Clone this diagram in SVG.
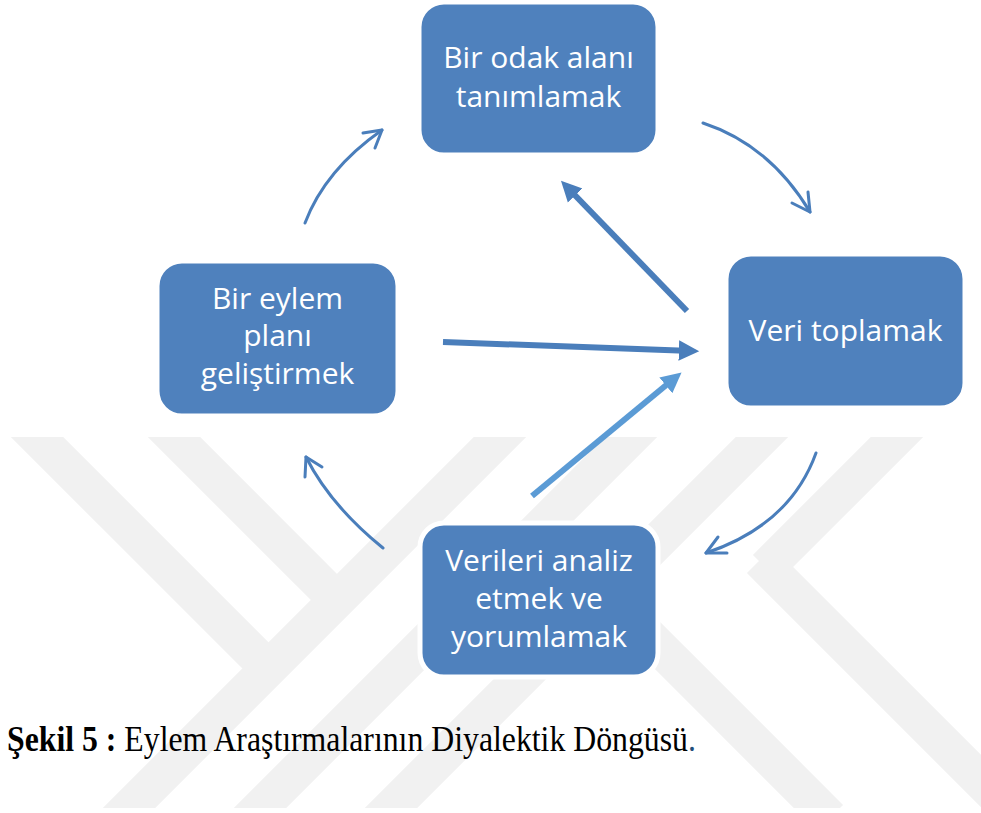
<svg xmlns="http://www.w3.org/2000/svg" width="981" height="813" viewBox="0 0 981 813">
<style>
.node rect{fill:#4F81BD;stroke:#ffffff;stroke-width:3}
.node text{fill:#ffffff;font-family:"Open Sans","Noto Sans",sans-serif;font-size:30px;text-anchor:middle}
.arc{fill:none;stroke:#4A7EBB;stroke-width:3;stroke-linecap:round;stroke-linejoin:round}
.bar{fill:none;stroke-width:6}
.wm{fill:none;stroke:#f1f1f1;stroke-width:37}
.cap{font-family:"Liberation Serif","Times New Roman",serif;font-size:36px;fill:#000}
</style>
<defs>
<clipPath id="wmclip"><rect x="0" y="437" width="981" height="371"/></clipPath>
<marker id="hd" markerWidth="4" markerHeight="4" refX="2.2" refY="2" orient="auto" markerUnits="strokeWidth"><path d="M0,0.3 L3.4,2 L0,3.7 Z" fill="#4A7EBB"/></marker>
<marker id="hl" markerWidth="4" markerHeight="4" refX="2.2" refY="2" orient="auto" markerUnits="strokeWidth"><path d="M0,0.3 L3.4,2 L0,3.7 Z" fill="#5B9BD5"/></marker>
</defs>
<rect width="981" height="813" fill="#ffffff"/>
<g id="watermark" clip-path="url(#wmclip)">
<path class="wm" d="M17,417 L269,669"/>
<path class="wm" d="M154,417 L337,600"/>
<path class="wm" d="M520,417 L100,837"/>
<path class="wm" d="M651,417 L241,827"/>
<path class="wm" d="M781,418 L371,828"/>
<path class="wm" d="M916,418 L766,568"/>
<path class="wm" d="M760,560 L1010,810"/>
<path class="wm" d="M605,593 L830,818"/>
</g>
<g id="connectors">
<path class="arc" d="M305,223 Q325,170 382,130"/>
<path class="arc" d="M363,133 L382,130 L375,148"/>
<path class="arc" d="M703,123 Q770,145 810,212"/>
<path class="arc" d="M792,203 L810,212 L808,192"/>
<path class="arc" d="M816,453 Q790,525 706,553"/>
<path class="arc" d="M718,537 L706,553 L727,553"/>
<path class="arc" d="M383,548 Q330,505 306,457"/>
<path class="arc" d="M305,477 L306,457 L322,467"/>
<path class="bar" stroke="#4A7EBB" d="M687,311 L566,186" marker-end="url(#hd)"/>
<path class="bar" stroke="#4A7EBB" d="M443,342 L692,351" marker-end="url(#hd)"/>
<path class="bar" stroke="#5B9BD5" d="M532,496 L676,377" marker-end="url(#hl)"/>
</g>
<g id="n1" class="node">
<rect x="420" y="3" width="237" height="151" rx="24"/>
<text x="538.5" y="68">Bir odak alanı</text>
<text x="538.5" y="107">tanımlamak</text>
</g>
<g id="n2" class="node">
<rect x="727" y="255" width="237" height="152" rx="24"/>
<text x="845.5" y="341">Veri toplamak</text>
</g>
<g id="n3" class="node">
<rect x="420" y="523" width="238" height="154" rx="24" style="stroke-width:5"/>
<text x="539" y="571">Verileri analiz</text>
<text x="539" y="609">etmek ve</text>
<text x="539" y="647">yorumlamak</text>
</g>
<g id="n4" class="node">
<rect x="158" y="262" width="239" height="153" rx="24"/>
<text x="277.5" y="309">Bir eylem</text>
<text x="277.5" y="346">planı</text>
<text x="277.5" y="384">geliştirmek</text>
</g>
<g id="caption">
<text class="cap" transform="translate(7,751) scale(0.8825,1)"><tspan font-weight="bold">Şekil 5 :</tspan> Eylem Araştırmalarının Diyalektik Döngüsü<tspan style="fill:#1F4E79">.</tspan></text>
</g>
</svg>
